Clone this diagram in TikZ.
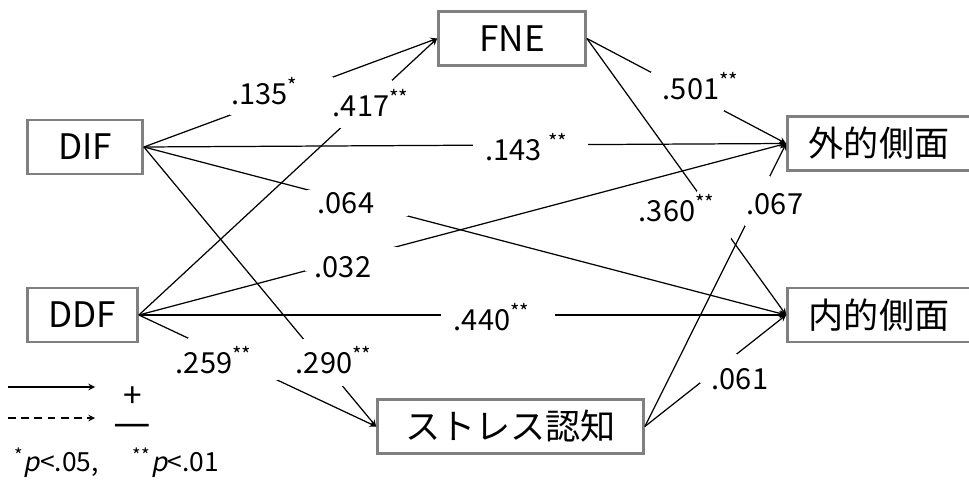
\documentclass[tikz,border=0pt]{standalone}
\usepackage{fontspec}
\setmainfont{Noto Sans CJK JP}[AutoFakeSlant=0.2]
\usetikzlibrary{arrows}
\tikzstyle{var}   = [rectangle, draw=black!50, line width=1.6pt, minimum height=1.08cm, inner sep=0pt, text centered, font=\fontsize{20}{24}\selectfont]
\tikzstyle{arrow} = [line width=0.7pt,->,>=stealth]
\tikzstyle{coef}  = [inner sep=0pt, font=\fontsize{16.5}{20}\selectfont]
\tikzset{hole/.style 2 args={fill=white, inner sep=0pt, minimum width=#1*0.02cm, minimum height=#2*0.02cm}}
\newcommand{\stars}[1]{\textsuperscript{#1}}

\begin{document}
\begin{tikzpicture}[x=0.02cm, y=-0.02cm]
    \useasboundingbox (0,0) rectangle (969,482);

    \node (dif) [var, minimum width=2.30cm] at (85,147)    {DIF};
    \node (ddf) [var, minimum width=2.20cm] at (82.5,315)  {DDF};
    \node (fne) [var, minimum width=2.94cm] at (512,38.5)  {FNE};
    \node (ext) [var, minimum width=3.66cm] at (879,143.5) {外的側面};
    \node (int) [var, minimum width=3.66cm] at (879,315)   {内的側面};
    \node (str) [var, minimum width=5.32cm] at (510.5,426.5) {ストレス認知};

    \draw [arrow] (dif.east) -- node [hole={103}{38}, pos=.47]  {} (fne.west);
    \draw [arrow] (ddf.east) -- node [hole={52}{48},  pos=.762] {} (fne.west);
    \draw [arrow] (dif.east) -- node [hole={115}{6},  pos=.602] {} (ext.west);
    \draw [arrow] (dif.east) -- node [hole={101}{26}, pos=.333] {} (int.west);
    \draw [arrow] (dif.east) -- node [hole={40}{47},  pos=.772] {} (str.west);
    \draw [arrow] (ddf.east) -- node [hole={90}{42},  pos=.397] {} (str.west);
    \draw [arrow] (ddf.east) -- node [hole={92}{24},  pos=.328] {} (ext.west);
    \draw [arrow] (ddf.east) -- node [hole={114}{6},  pos=.555] {} (int.west);
    \draw [arrow] (fne.east) -- node [hole={73}{39},  pos=.505] {} (ext.west);
    \draw [arrow] (fne.east) -- node [hole={34}{48},  pos=.638] {} (int.west);
    \draw [arrow] (str.east) -- node [hole={25}{50},  pos=.798] {} (ext.west);
    \draw [arrow] (str.east) -- node [hole={37}{29},  pos=.521] {} (int.west);

    \node (c135) [coef] at (265,91)  {.135\stars{*}};
    \node (c417) [coef] at (371,103) {.417\stars{**}};
    \node (c143) [coef] at (527,147) {.143 \stars{**}};
    \node (c064) [coef] at (346,203) {.064};
    \node (c290) [coef] at (334,360) {.290\stars{**}};
    \node (c259) [coef] at (214,360) {.259\stars{**}};
    \node (c032) [coef] at (343,267) {.032};
    \node (c440) [coef] at (492,317) {.440\stars{**}};
    \node (c501) [coef] at (701,86)  {.501\stars{**}};
    \node (c360) [coef] at (677,208) {.360\stars{**}};
    \node (c067) [coef] at (775,204) {.067};
    \node (c061) [coef] at (740,379) {.061};

    % legend
    \coordinate (posA) at (8,387);
    \coordinate (posB) at (95,387);
    \coordinate (negA) at (8,418);
    \coordinate (negB) at (95,418);
    \draw [arrow] (posA) -- (posB);
    \draw [arrow, dash pattern=on 4.5pt off 3pt] (negA) -- (negB);
    \node (plus)  [coef, font=\fontsize{19}{22}\selectfont] at (133,397) {+};
    \node (minus) [coef, font=\fontsize{24}{28}\selectfont] at (132,431) {—};
    \node (note)  [anchor=west, inner sep=0pt, font=\fontsize{15}{18}\selectfont] at (14,463)
        {\stars{*}\textit{p}<.05,\hspace{1.3em}\stars{**}\textit{p}<.01};
\end{tikzpicture}
\end{document}
